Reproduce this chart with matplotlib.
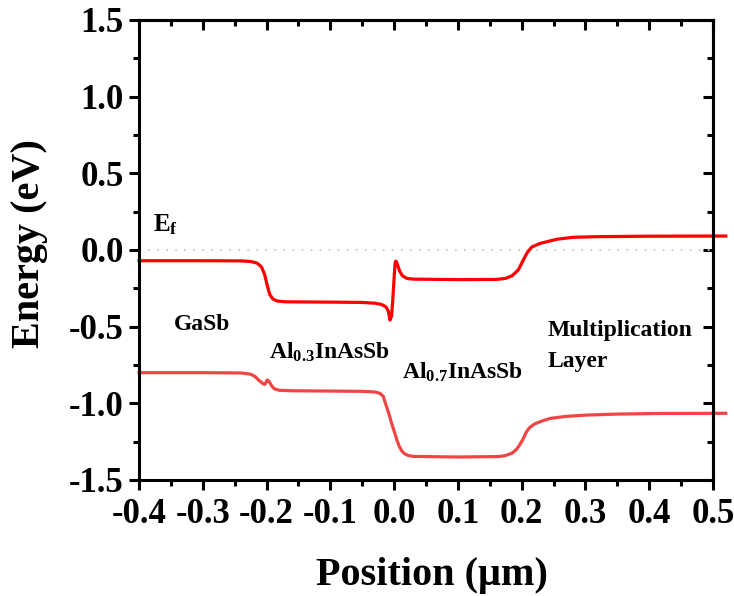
import matplotlib
matplotlib.use("Agg")
import matplotlib.pyplot as plt
from matplotlib.ticker import MultipleLocator

plt.rcParams['font.family'] = ['Liberation Serif', 'DejaVu Serif']
plt.rcParams['font.weight'] = 'bold'
plt.rcParams['mathtext.fontset'] = 'custom'
plt.rcParams['mathtext.rm'] = 'Liberation Serif:bold'
plt.rcParams['mathtext.it'] = 'Liberation Serif:bold'
plt.rcParams['mathtext.bf'] = 'Liberation Serif:bold'

# Conduction band edge (eV) vs position (um)
cb_x = [-0.40, -0.30, -0.24, -0.225, -0.215, -0.208, -0.203, -0.199, -0.195,
        -0.190, -0.183, -0.170, -0.10, -0.05, -0.030, -0.020, -0.013, -0.009,
        -0.0065, -0.004, -0.002, 0.000, 0.0015, 0.0025, 0.004, 0.006, 0.009,
        0.013, 0.020, 0.030, 0.10, 0.160, 0.175, 0.185, 0.1947, 0.2026, 0.209,
        0.216, 0.229, 0.255, 0.281, 0.32, 0.40, 0.52]
cb_e = [-0.070, -0.070, -0.071, -0.075, -0.085, -0.11, -0.16, -0.23, -0.29,
        -0.320, -0.333, -0.338, -0.340, -0.342, -0.347, -0.355, -0.37, -0.40,
        -0.457, -0.43, -0.32, -0.18, -0.09, -0.072, -0.08, -0.105, -0.14,
        -0.168, -0.185, -0.190, -0.193, -0.192, -0.185, -0.168, -0.13, -0.065, -0.015,
        0.020, 0.043, 0.070, 0.083, 0.087, 0.090, 0.091]

# Valence band edge (eV) vs position (um)
vb_x = [-0.40, -0.30, -0.24, -0.225, -0.218, -0.212, -0.2055, -0.2025, -0.2005,
        -0.199, -0.196, -0.192, -0.188, -0.180, -0.160, -0.10, -0.05, -0.030,
        -0.022, -0.017, -0.012, -0.008, -0.004, 0.000, 0.004, 0.008, 0.012,
        0.016, 0.022, 0.030, 0.10, 0.165, 0.175, 0.185, 0.192, 0.197, 0.202,
        0.207, 0.212, 0.220, 0.232, 0.245, 0.27, 0.30, 0.35, 0.42, 0.52]
vb_e = [-0.800, -0.800, -0.802, -0.810, -0.825, -0.850, -0.872, -0.876, -0.860,
        -0.848, -0.858, -0.885, -0.905, -0.915, -0.918, -0.920, -0.922, -0.926,
        -0.935, -0.955, -1.02, -1.07, -1.13, -1.18, -1.235, -1.28, -1.31,
        -1.328, -1.340, -1.346, -1.350, -1.347, -1.340, -1.325, -1.300, -1.27,
        -1.235, -1.19, -1.16, -1.135, -1.115, -1.098, -1.085, -1.077, -1.070,
        -1.066, -1.065]

fermi_x = [-0.40, 0.50]
fermi_e = [0.0, 0.0]

x_ticks = [-0.4, -0.3, -0.2, -0.1, 0.0, 0.1, 0.2, 0.3, 0.4, 0.5]
y_ticks = [-1.5, -1.0, -0.5, 0.0, 0.5, 1.0, 1.5]

fig = plt.figure(figsize=(7.34, 5.96), dpi=100)
ax = fig.add_axes([139 / 734, 1 - 480 / 596, (713 - 139) / 734, (480 - 20) / 596])

ax.plot(fermi_x, fermi_e, color='#c8c8c8', lw=1.3, linestyle=(0, (1, 4)))
ax.plot(cb_x, cb_e, color='#ff0000', lw=2.3, clip_on=False, solid_joinstyle='round')
ax.plot(vb_x, vb_e, color='#f04545', lw=2.3, clip_on=False, solid_joinstyle='round')

ax.set_xlim(-0.4, 0.5)
ax.set_ylim(-1.5, 1.5)
ax.set_xticks(x_ticks)
ax.set_yticks(y_ticks)
ax.set_xticklabels([f"{v:.1f}" for v in x_ticks])
ax.set_yticklabels([f"{v:.1f}" for v in y_ticks])
ax.xaxis.set_minor_locator(MultipleLocator(0.05))
ax.yaxis.set_minor_locator(MultipleLocator(0.25))

for s in ax.spines.values():
    s.set_linewidth(2.2)

ax.tick_params(which='both', direction='out', width=2.2, labelsize=25,
               top=False, right=False)
ax.tick_params(axis='x', pad=6)
ax.tick_params(axis='y', pad=4)
ax.tick_params(which='major', length=7)
ax.tick_params(which='minor', length=4)

# inward ticks on top and right frame edges
ax_top = ax.secondary_xaxis('top')
ax_top.set_xticks(x_ticks)
ax_top.xaxis.set_minor_locator(MultipleLocator(0.05))
ax_top.tick_params(which='both', direction='in', width=2.2, labeltop=False)
ax_top.tick_params(which='major', length=7)
ax_top.tick_params(which='minor', length=4)
ax_top.spines['top'].set_linewidth(2.2)
ax_right = ax.secondary_yaxis('right')
ax_right.set_yticks(y_ticks)
ax_right.yaxis.set_minor_locator(MultipleLocator(0.25))
ax_right.tick_params(which='both', direction='in', width=2.2, labelright=False)
ax_right.tick_params(which='major', length=7)
ax_right.tick_params(which='minor', length=4)
ax_right.spines['right'].set_linewidth(2.2)

for lab in ax.get_xticklabels() + ax.get_yticklabels():
    lab.set_fontweight('bold')

# axis titles
ax.text(0.511, -0.228, 'Position (\u03bcm)', transform=ax.transAxes, fontsize=29,
        fontweight='bold', ha='center', va='baseline')
ax.text(-0.175, 0.514, 'Energy (eV)', transform=ax.transAxes, fontsize=29,
        fontweight='bold', ha='center', va='baseline', rotation=90,
        rotation_mode='anchor')

# region annotations
ax.text(-0.378, 0.12, r'E$_\mathregular{f}$', fontsize=18, fontweight='bold',
        va='baseline')
ax.text(-0.345, -0.52, 'GaSb', fontsize=17, fontweight='bold')
ax.text(-0.196, -0.71, r'Al$_\mathregular{0.3}$InAsSb', fontsize=17, fontweight='bold')
ax.text(0.012, -0.84, r'Al$_\mathregular{0.7}$InAsSb', fontsize=17, fontweight='bold')
ax.text(0.240, -0.561, 'Multiplication', fontsize=17, fontweight='bold', va='baseline')
ax.text(0.240, -0.761, 'Layer', fontsize=17, fontweight='bold', va='baseline')

fig.savefig('out.png', dpi=100)
